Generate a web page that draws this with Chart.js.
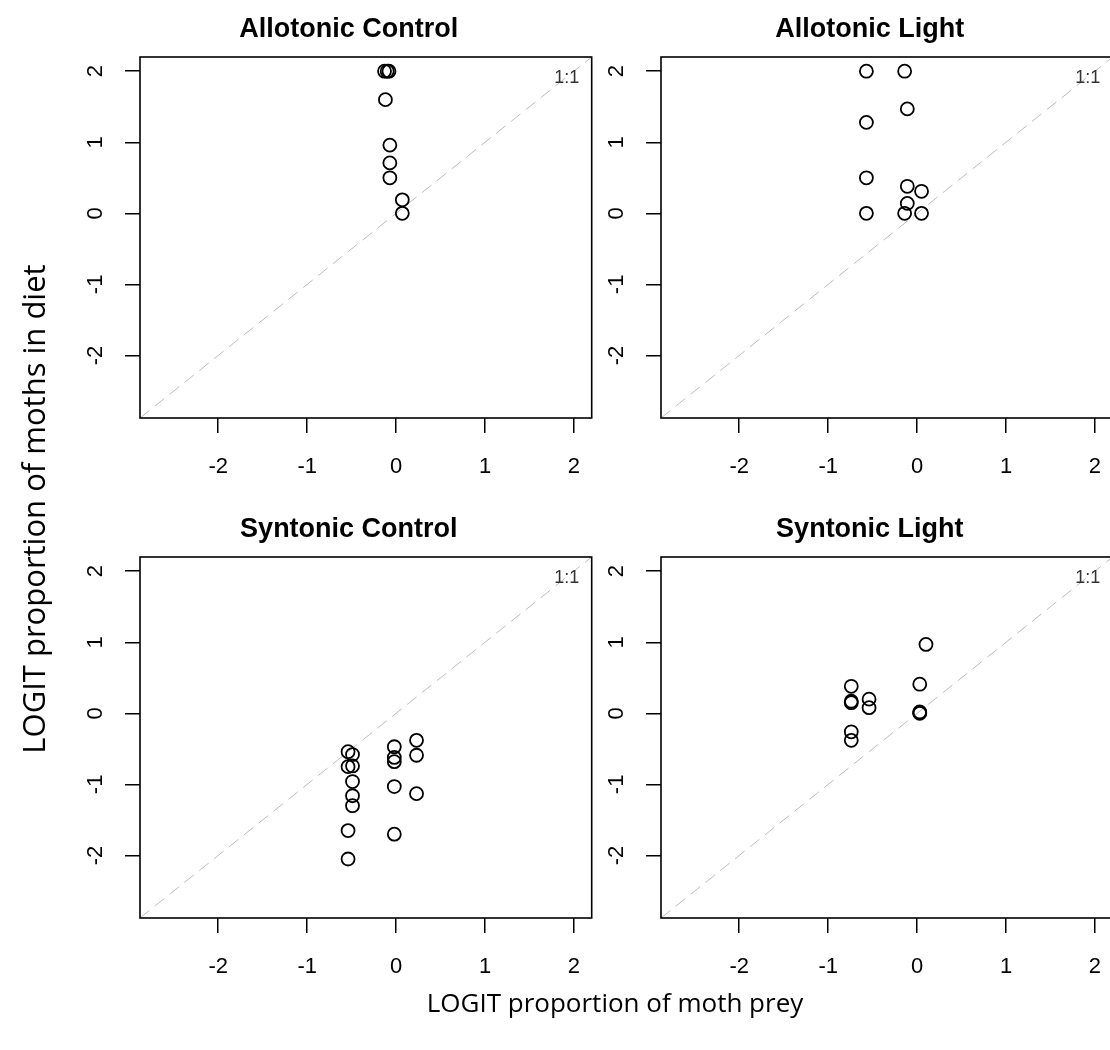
<!DOCTYPE html>
<html>
<head>
<meta charset="utf-8">
<script src="https://cdn.jsdelivr.net/npm/chart.js@4.4.1/dist/chart.umd.min.js"></script>
<style>
  html, body { margin: 0; padding: 0; background: #fff; overflow: hidden; }
  #wrap { position: relative; width: 1110px; height: 1050px; overflow: hidden; background: #fff; }
  .panel { position: absolute; width: 600px; height: 500px; }
  .axis-title { position: absolute; font-family: "Open Sans", sans-serif; color: #000;
                white-space: nowrap; text-align: center; width: 700px; height: 40px; line-height: 40px; }
  #xTitle { left: 265px; top: 982px; font-size: 26px; }
  #yTitle { left: -317px; top: 489px; font-size: 31px; transform: rotate(-90deg); }
</style>
</head>
<body>
<div id="wrap">
  <canvas id="p1" class="panel" width="600" height="500" style="left:0px;top:0px"></canvas>
  <canvas id="p2" class="panel" width="600" height="500" style="left:521px;top:0px"></canvas>
  <canvas id="p3" class="panel" width="600" height="500" style="left:0px;top:500px"></canvas>
  <canvas id="p4" class="panel" width="600" height="500" style="left:521px;top:500px"></canvas>
  <div id="xTitle" class="axis-title">LOGIT proportion of moth prey</div>
  <div id="yTitle" class="axis-title">LOGIT proportion of moths in diet</div>
</div>
<script>
// ---- data ----
const tickValues = [-2, -1, 0, 1, 2];
const axisMin = -2.88;
const axisMax = 2.2;
const ratioLabel = '1:1';
const ratioPos = [1.92, 1.9];

const panelTitles = ['Allotonic Control', 'Allotonic Light', 'Syntonic Control', 'Syntonic Light'];

const allotonicControlX = [-0.13, -0.10, -0.08, -0.12, -0.07, -0.07, -0.07, 0.07, 0.07];
const allotonicControlY = [2.0, 2.0, 2.0, 1.6, 0.96, 0.71, 0.5, 0.19, 0.0];

const allotonicLightX = [-0.57, -0.14, -0.11, -0.57, -0.57, -0.11, 0.05, -0.11, -0.14, 0.05, -0.57];
const allotonicLightY = [2.0, 2.0, 1.47, 1.28, 0.5, 0.38, 0.31, 0.14, 0.0, 0.0, 0.0];

const syntonicControlX = [-0.54, -0.49, -0.54, -0.49, -0.49, -0.49, -0.49, -0.54, -0.54,
                          -0.02, -0.02, -0.02, -0.02, -0.02, 0.23, 0.23, 0.23];
const syntonicControlY = [-0.54, -0.58, -0.75, -0.74, -0.96, -1.16, -1.3, -1.65, -2.05,
                          -0.47, -0.62, -0.68, -1.03, -1.7, -0.38, -0.59, -1.13];

const syntonicLightX = [0.10, -0.74, 0.03, -0.74, -0.74, -0.54, -0.54, 0.03, 0.03, 0.03, -0.74, -0.74];
const syntonicLightY = [0.97, 0.38, 0.41, 0.17, 0.15, 0.2, 0.08, 0.01, 0.0, 0.02, -0.26, -0.38];

const FONT = '"Liberation Sans", Arial, sans-serif';

// box round the plot area, panel title and the "1:1" note
const boxPlugin = {
  id: 'plotBox',
  afterDatasetsDraw(chart, args, opts) {
    const { ctx, chartArea: a, scales } = chart;
    ctx.save();
    ctx.strokeStyle = '#000';
    ctx.lineWidth = 1.6;
    ctx.strokeRect(a.left, a.top, a.right - a.left, a.bottom - a.top);

    ctx.fillStyle = '#000';
    ctx.font = 'bold 27px ' + FONT;
    ctx.textAlign = 'center';
    ctx.textBaseline = 'middle';
    // title sits a little left of the box centre, as in the source figure
    ctx.fillText(opts.title, (a.left + a.right) / 2 - 17, a.top - 27);

    ctx.fillStyle = '#333';
    ctx.font = '18px ' + FONT;
    ctx.fillText(ratioLabel, scales.x.getPixelForValue(ratioPos[0]), scales.y.getPixelForValue(ratioPos[1]));
    ctx.restore();
  }
};

function axisOpts(isX) {
  return {
    type: 'linear',
    position: isX ? 'bottom' : 'left',
    min: axisMin,
    max: axisMax,
    afterBuildTicks: s => { s.ticks = tickValues.map(v => ({ value: v })); },
    afterFit: s => {
      if (isX) s.height = 82; else s.width = 140;
      s.paddingLeft = 0; s.paddingRight = 0; s.paddingTop = 0; s.paddingBottom = 0;
    },
    grid: { drawOnChartArea: false, drawTicks: true, tickLength: 15, color: '#000', lineWidth: 1.5 },
    border: { display: false },
    ticks: isX
      ? { color: '#000', font: { family: FONT, size: 22 }, padding: 21, maxRotation: 0, autoSkip: false }
      : { color: '#000', font: { family: FONT, size: 22 }, padding: 19, minRotation: 90, maxRotation: 90,
          crossAlign: 'center', autoSkip: false }
  };
}

function makePanel(id, title, xs, ys) {
  const points = xs.map((x, i) => ({ x, y: ys[i] }));
  return new Chart(document.getElementById(id), {
    type: 'scatter',
    data: {
      datasets: [
        { data: points, pointStyle: 'circle', pointRadius: 6.5, borderWidth: 1.8,
          borderColor: '#000', backgroundColor: 'rgba(0,0,0,0)' },
        { data: [{ x: axisMin, y: axisMin }, { x: axisMax, y: axisMax }], showLine: true,
          borderColor: '#bcbcbc', borderWidth: 1, borderDash: [12, 7], pointRadius: 0 }
      ]
    },
    options: {
      responsive: false,
      animation: false,
      events: [],
      layout: { padding: { left: 0, right: 6, top: 57, bottom: 0 } },
      plugins: {
        legend: { display: false },
        tooltip: { enabled: false },
        title: { display: false },
        plotBox: { title }
      },
      scales: { x: axisOpts(true), y: axisOpts(false) }
    },
    plugins: [boxPlugin]
  });
}

makePanel('p1', panelTitles[0], allotonicControlX, allotonicControlY);
makePanel('p2', panelTitles[1], allotonicLightX, allotonicLightY);
makePanel('p3', panelTitles[2], syntonicControlX, syntonicControlY);
makePanel('p4', panelTitles[3], syntonicLightX, syntonicLightY);
</script>
</body>
</html>
